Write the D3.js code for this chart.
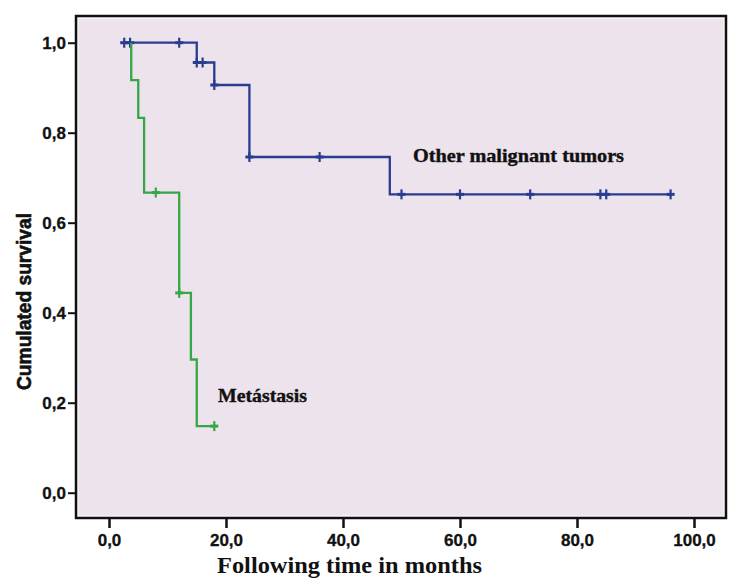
<!DOCTYPE html>
<html>
<head>
<meta charset="utf-8">
<script src="https://cdn.jsdelivr.net/npm/d3@7"></script>
<style>
  html, body { margin: 0; padding: 0; background: #ffffff; }
  svg { display: block; }
</style>
</head>
<body>
<svg id="chart" width="743" height="584"></svg>
<script>
// ---- data ----
const xTicks = [0, 20, 40, 60, 80, 100];
const yTicks = [0, 0.2, 0.4, 0.6, 0.8, 1.0];

// Other malignant tumors (blue)
const blueTimes = [2.6, 15, 18, 24, 48, 96];
const blueSurv  = [1.0, 0.956, 0.906, 0.746, 0.663, 0.663];
const blueCensorTimes = [2.6, 3.6, 12, 15, 16, 18, 24, 36, 50, 60, 72, 84, 85, 96];

// Metástasis (green)
const greenTimes = [3.8, 3.8, 5, 6, 12, 14, 15, 18];
const greenSurv  = [1.0, 0.917, 0.833, 0.667, 0.444, 0.296, 0.148, 0.148];
const greenCensorTimes = [8, 12, 18];

const seriesNames = ["Other malignant tumors", "Metástasis"];
const xTitle = "Following time in months";
const yTitle = "Cumulated survival";

// ---- layout ----
const svg = d3.select("#chart");
const frame = { l: 76, t: 16, r: 726, b: 518 };
const x = d3.scaleLinear().domain([0, 100]).range([109, 694]);
const y = d3.scaleLinear().domain([0, 1]).range([492.7, 42.7]);
const fmt = v => d3.format(".1f")(v).replace(".", ",");

// plot background
svg.append("rect")
  .attr("x", frame.l).attr("y", frame.t)
  .attr("width", frame.r - frame.l).attr("height", frame.b - frame.t)
  .attr("fill", "#ede3ec");
svg.append("rect")
  .attr("x", frame.l + 2).attr("y", frame.t + 2)
  .attr("width", frame.r - frame.l - 4).attr("height", frame.b - frame.t - 4)
  .attr("fill", "none").attr("stroke", "#fbf8fb").attr("stroke-width", 1.2);

// axes
const yAxis = d3.axisLeft(y).tickValues(yTicks).tickFormat(fmt).tickSize(8).tickPadding(2);
const gy = svg.append("g").attr("transform", `translate(${frame.l},0)`).call(yAxis);
gy.select(".domain").remove();
gy.selectAll(".tick line").attr("stroke", "#111").attr("stroke-width", 2);
gy.selectAll(".tick text")
  .attr("font-family", "'Liberation Sans', Arial, sans-serif")
  .attr("font-weight", "bold").attr("font-size", 17).attr("fill", "#111")
  .attr("stroke", "#111").attr("stroke-width", 0.3);

const xAxis = d3.axisBottom(x).tickValues(xTicks).tickFormat(fmt).tickSize(10).tickPadding(6);
const gx = svg.append("g").attr("transform", `translate(0,${frame.b})`).call(xAxis);
gx.select(".domain").remove();
gx.selectAll(".tick line").attr("stroke", "#111").attr("stroke-width", 2.5);
gx.selectAll(".tick text")
  .attr("font-family", "'Liberation Sans', Arial, sans-serif")
  .attr("font-weight", "bold").attr("font-size", 17).attr("fill", "#111")
  .attr("stroke", "#111").attr("stroke-width", 0.3);

// frame border
svg.append("rect")
  .attr("x", frame.l).attr("y", frame.t)
  .attr("width", frame.r - frame.l).attr("height", frame.b - frame.t)
  .attr("fill", "none").attr("stroke", "#111").attr("stroke-width", 2.5);

// survival curves
const line = d3.line().x(d => x(d[0])).y(d => y(d[1])).curve(d3.curveStepAfter);
function survAt(times, surv, t) {
  let s = surv[0];
  for (let i = 0; i < times.length; i++) if (times[i] <= t) s = surv[i];
  return s;
}
function drawSeries(times, surv, censors, color) {
  const pts = times.map((t, i) => [t, surv[i]]);
  svg.append("path").attr("d", line(pts))
    .attr("fill", "none").attr("stroke", color).attr("stroke-width", 2.3);
  const g = svg.append("g");
  censors.forEach(t => {
    const cx = x(t), cy = y(survAt(times, surv, t));
    g.append("line").attr("x1", cx).attr("x2", cx).attr("y1", cy - 5).attr("y2", cy + 5)
      .attr("stroke", color).attr("stroke-width", 2.2);
    g.append("line").attr("x1", cx - 4).attr("x2", cx + 4).attr("y1", cy).attr("y2", cy)
      .attr("stroke", color).attr("stroke-width", 3);
  });
}
drawSeries(blueTimes, blueSurv, blueCensorTimes, "#283d8e");
drawSeries(greenTimes, greenSurv, greenCensorTimes, "#36a745");

// series labels
svg.append("text").attr("x", 413).attr("y", 162)
  .attr("font-family", "'Liberation Serif', 'Times New Roman', serif")
  .attr("font-weight", "bold").attr("font-size", 19).attr("fill", "#111")
  .attr("stroke", "#111").attr("stroke-width", 0.4)
  .attr("textLength", 211).attr("lengthAdjust", "spacingAndGlyphs")
  .text(seriesNames[0]);
svg.append("text").attr("x", 218).attr("y", 402)
  .attr("font-family", "'Liberation Serif', 'Times New Roman', serif")
  .attr("font-weight", "bold").attr("font-size", 19).attr("fill", "#111")
  .attr("stroke", "#111").attr("stroke-width", 0.4)
  .attr("textLength", 89).attr("lengthAdjust", "spacingAndGlyphs")
  .text(seriesNames[1]);

// axis titles
svg.append("text").attr("x", 217).attr("y", 573)
  .attr("font-family", "'Liberation Serif', 'Times New Roman', serif")
  .attr("font-weight", "bold").attr("font-size", 24).attr("fill", "#111")
  .attr("textLength", 265).attr("lengthAdjust", "spacingAndGlyphs")
  .text(xTitle);
svg.append("text")
  .attr("transform", "translate(31,390) rotate(-90)")
  .attr("font-family", "'Liberation Sans Narrow', 'Liberation Sans', Arial, sans-serif")
  .attr("font-weight", "bold").attr("font-size", 20).attr("fill", "#111")
  .attr("stroke", "#111").attr("stroke-width", 0.6)
  .attr("textLength", 177).attr("lengthAdjust", "spacingAndGlyphs")
  .text(yTitle);
</script>
</body>
</html>
